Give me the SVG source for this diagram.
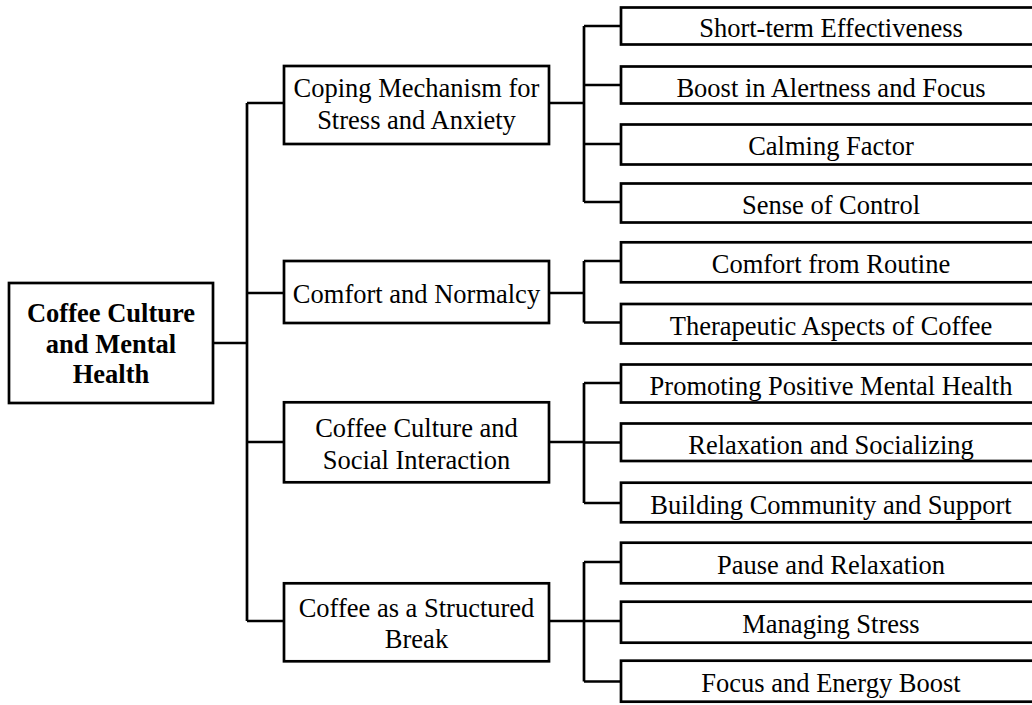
<svg xmlns="http://www.w3.org/2000/svg" width="1032" height="705" viewBox="0 0 1032 705">
<style>
.box{fill:#fff;stroke:#000;stroke-width:2.7}
.t{font-family:"Liberation Serif","Times New Roman",serif;font-size:26.5px;fill:#000;text-anchor:middle}
.b{font-weight:bold}
.c{fill:none;stroke:#000;stroke-width:2.7}
</style>
<rect width="1032" height="705" fill="#fff"/>
<g id="connectors" class="c">
<path d="M213,343 H247 M247,103 V621 M247,103 H284 M247,293 H284 M247,442 H284 M247,621 H284"/>
<path d="M549,103 H584 M584,26 V202 M584,26 H621 M584,85 H621 M584,144 H621 M584,202 H621"/>
<path d="M549,293 H584 M584,261 V322.5 M584,261 H621 M584,322.5 H621"/>
<path d="M549,442 H584 M584,383 V503 M584,383 H621 M584,442.5 H621 M584,503 H621"/>
<path d="M549,621 H584 M584,562 V681.5 M584,562 H621 M584,621 H621 M584,681.5 H621"/>
</g>
<g id="root">
<rect class="box" x="9" y="283" width="204" height="120"/>
<text class="t b" x="111" y="322">Coffee Culture</text>
<text class="t b" x="111" y="352.5">and Mental</text>
<text class="t b" x="111" y="383">Health</text>
</g>
<g id="m1">
<rect class="box" x="284" y="66" width="265" height="78"/>
<text class="t" x="416.5" y="97">Coping Mechanism for</text>
<text class="t" x="416.5" y="128.5">Stress and Anxiety</text>
</g>
<g id="m2">
<rect class="box" x="284" y="261" width="265" height="62"/>
<text class="t" x="416.5" y="302.7">Comfort and Normalcy</text>
</g>
<g id="m3">
<rect class="box" x="284" y="402.3" width="265" height="80"/>
<text class="t" x="416.5" y="437.3">Coffee Culture and</text>
<text class="t" x="416.5" y="468.8">Social Interaction</text>
</g>
<g id="m4">
<rect class="box" x="284" y="583.3" width="265" height="78"/>
<text class="t" x="416.5" y="616.7">Coffee as a Structured</text>
<text class="t" x="416.5" y="647.5">Break</text>
</g>
<g id="l1"><rect class="box" x="621" y="7.5" width="422" height="37"/><text class="t" x="831" y="36.7">Short-term Effectiveness</text></g>
<g id="l2"><rect class="box" x="621" y="66.5" width="422" height="37"/><text class="t" x="831" y="96.5">Boost in Alertness and Focus</text></g>
<g id="l3"><rect class="box" x="621" y="124.5" width="422" height="40"/><text class="t" x="831" y="155">Calming Factor</text></g>
<g id="l4"><rect class="box" x="621" y="183.5" width="422" height="39"/><text class="t" x="831" y="213.5">Sense of Control</text></g>
<g id="l5"><rect class="box" x="621" y="242.3" width="422" height="40"/><text class="t" x="831" y="273">Comfort from Routine</text></g>
<g id="l6"><rect class="box" x="621" y="304" width="422" height="39.5"/><text class="t" x="831" y="334.5">Therapeutic Aspects of Coffee</text></g>
<g id="l7"><rect class="box" x="621" y="364.5" width="422" height="38"/><text class="t" x="831" y="394.5">Promoting Positive Mental Health</text></g>
<g id="l8"><rect class="box" x="621" y="423.5" width="422" height="37.5"/><text class="t" x="831" y="453.5">Relaxation and Socializing</text></g>
<g id="l9"><rect class="box" x="621" y="482.7" width="422" height="39.6"/><text class="t" x="831" y="513.5">Building Community and Support</text></g>
<g id="l10"><rect class="box" x="621" y="542.7" width="422" height="40.6"/><text class="t" x="831" y="573.8">Pause and Relaxation</text></g>
<g id="l11"><rect class="box" x="621" y="601.7" width="422" height="41"/><text class="t" x="831" y="633">Managing Stress</text></g>
<g id="l12"><rect class="box" x="621" y="660.7" width="422" height="41"/><text class="t" x="831" y="692">Focus and Energy Boost</text></g>
</svg>
